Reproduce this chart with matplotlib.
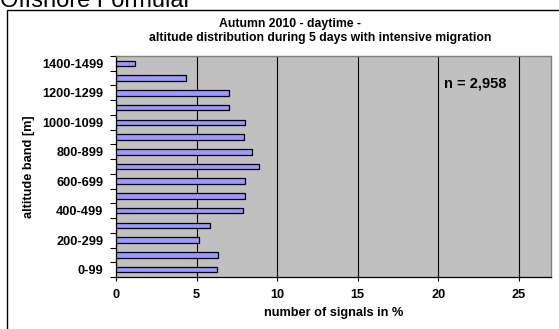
import numpy as np
import matplotlib
matplotlib.use('Agg')
import matplotlib.pyplot as plt
from matplotlib.patches import Rectangle

# altitude bands (bottom to top) and share of signals in %
bands = ['0-99', '100-199', '200-299', '300-399', '400-499', '500-599',
         '600-699', '700-799', '800-899', '900-999', '1000-1099',
         '1100-1199', '1200-1299', '1300-1399', '1400-1499']
share = [6.29, 6.34, 5.13, 5.82, 7.87, 7.98, 8.0, 8.88, 8.43, 7.93,
         7.99, 7.02, 7.02, 4.33, 1.16]
xticks = [0, 5, 10, 15, 20, 25]


def main():
    plt.rcParams['font.family'] = ['Liberation Sans', 'DejaVu Sans']
    plt.rcParams['font.weight'] = 'bold'
    fs = 9.2

    fig = plt.figure(figsize=(5.59, 3.29), dpi=100)
    W, H = 559, 329

    # outer frame of the chart object (runs off the image at right/bottom)
    fig.patches.append(Rectangle((7 / W, -0.1), 1.2, 1 - 10 / H + 0.1,
                                 transform=fig.transFigure, fill=False,
                                 edgecolor='black', linewidth=1.0))
    # page heading, cut off by the image border
    fig.text(0 / W, 1 - 7 / H, 'Offshore Formular', fontsize=17,
             fontweight='normal', ha='left', va='baseline')

    ax = fig.add_axes([116 / W, 1 - 277 / H, (551 - 116) / W, (277 - 56) / H])
    ax.set_facecolor('#C0C0C0')

    y = np.arange(len(bands))
    ax.set_axisbelow(True)
    ax.xaxis.grid(True, color='black', linewidth=0.8)
    ax.barh(y, share, height=0.38, color='#9999FF', edgecolor='black',
            linewidth=0.9, zorder=3)

    ax.set_xlim(0, 27)
    ax.set_ylim(-0.5, len(bands) - 0.5)
    ax.set_xticks(xticks)
    ax.set_xticklabels([str(v) for v in xticks], fontsize=fs, fontweight='bold')
    ax.tick_params(axis='x', length=3, width=0.8, pad=6)

    # tick marks at band boundaries, labels on every second band
    ax.set_yticks(np.arange(len(bands) + 1) - 0.5)
    ax.set_yticklabels([])
    ax.tick_params(axis='y', which='major', length=4, width=0.8)
    ax.set_yticks(y, minor=True)
    ax.set_yticklabels([b if i % 2 == 0 else '' for i, b in enumerate(bands)],
                       minor=True, fontsize=fs, fontweight='bold')
    ax.tick_params(axis='y', which='minor', length=0, pad=9)

    for s in ['top', 'right']:
        ax.spines[s].set_color('#808080')
        ax.spines[s].set_linewidth(1.0)
    for s in ['left', 'bottom']:
        ax.spines[s].set_color('black')
        ax.spines[s].set_linewidth(0.9)

    ax.set_xlabel('number of signals in %', fontsize=fs, fontweight='bold',
                  labelpad=4)
    ax.set_ylabel('altitude band [m]', fontsize=fs, fontweight='bold',
                  labelpad=5)

    ax.text(475 / W, 1 - 84 / H, 'n = 2,958', transform=fig.transFigure,
            fontsize=10.5, fontweight='bold', ha='center', va='center')

    fig.text(290 / W, 1 - 24 / H, 'Autumn 2010 - daytime -', fontsize=8.8,
             fontweight='bold', ha='center', va='center')
    fig.text(320 / W, 1 - 38 / H,
             'altitude distribution during 5 days with intensive migration',
             fontsize=8.8, fontweight='bold', ha='center', va='center')

    fig.savefig('out.png', dpi=100)


if __name__ == "__main__":
    main()
